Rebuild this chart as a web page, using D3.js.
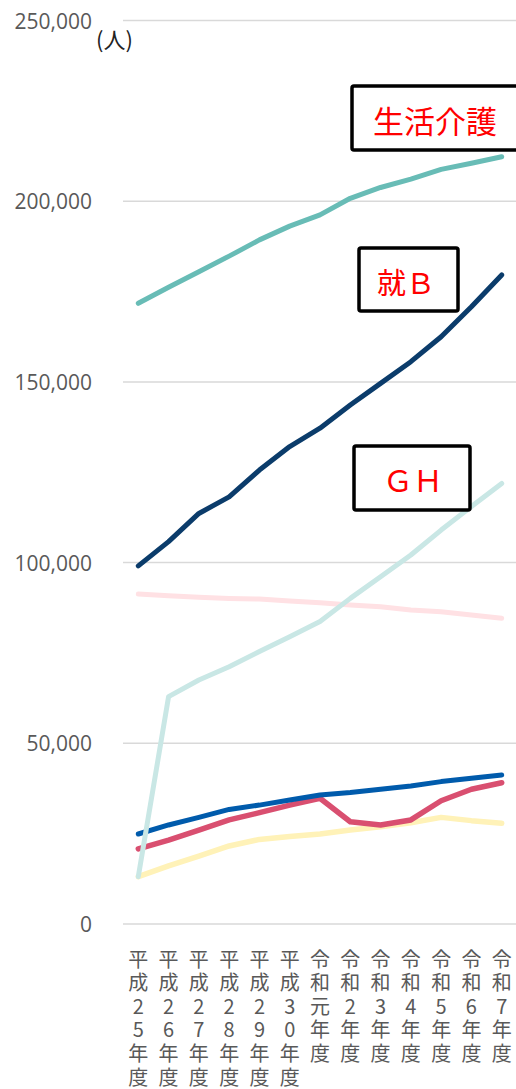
<!DOCTYPE html>
<html>
<head>
<meta charset="utf-8">
<script src="https://cdn.jsdelivr.net/npm/d3@7"></script>
<style>
  html, body { margin: 0; padding: 0; background: #fff; }
  svg { display: block; }
</style>
</head>
<body>
<div id="chart"></div>
<script>
// Chart data.
var years = ['平成25年度', '平成26年度', '平成27年度', '平成28年度', '平成29年度', '平成30年度',
             '令和元年度', '令和2年度', '令和3年度', '令和4年度', '令和5年度', '令和6年度', '令和7年度'];

var seikatsuKaigo = [171750, 176200, 180500, 184800, 189300, 193100, 196200, 200800, 203800, 206100, 208800, 210500, 212300];
var shuB          = [99100, 105800, 113600, 118200, 125600, 132100, 137200, 143600, 149600, 155600, 162500, 170800, 179600];
var gh            = [13100, 62900, 67500, 71200, 75400, 79500, 83700, 90100, 96100, 102100, 109000, 115500, 121900];
var series4       = [91300, 90800, 90400, 90100, 89900, 89400, 88900, 88300, 87800, 86900, 86400, 85500, 84600];
var series5       = [24900, 27400, 29500, 31700, 32900, 34300, 35700, 36400, 37300, 38200, 39400, 40300, 41200];
var series6       = [20800, 23200, 26000, 28800, 30800, 32900, 34800, 28300, 27400, 28800, 34100, 37300, 39100];
var series7       = [13100, 16100, 18800, 21600, 23400, 24200, 24900, 26000, 26900, 28000, 29500, 28600, 27900];

var yTicks = [0, 50000, 100000, 150000, 200000, 250000];

var W = 516, H = 1089;

var svg = d3.select('#chart').append('svg')
  .attr('width', W).attr('height', H);

var x = d3.scalePoint().domain(years).range([138.3, 501.7]);
var y = d3.scaleLinear().domain([0, 250000]).range([924, 20.5]);

// Gridlines.
svg.append('g')
  .selectAll('line')
  .data(yTicks).enter().append('line')
  .attr('x1', 123).attr('x2', W)
  .attr('y1', function(d) { return y(d); })
  .attr('y2', function(d) { return y(d); })
  .attr('stroke', '#d9d9d9')
  .attr('stroke-width', 1.5);

// Y tick labels.
svg.append('g')
  .selectAll('text')
  .data(yTicks).enter().append('text')
  .attr('x', 92)
  .attr('y', function(d) { return y(d); })
  .attr('text-anchor', 'end')
  .attr('dominant-baseline', 'central')
  .style('font-family', '"Open Sans", "Noto Sans", sans-serif')
  .style('font-size', '21px')
  .style('fill', '#595959')
  .text(function(d) { return d3.format(',')(d); });

// Unit label.
svg.append('text')
  .attr('x', 96).attr('y', 38)
  .attr('dominant-baseline', 'central')
  .style('font-family', '"Noto Sans CJK JP", sans-serif')
  .style('font-size', '22px')
  .style('fill', '#222')
  .text('(人)');

// X labels, stacked vertically one character per row.
var xl = svg.append('g')
  .selectAll('g')
  .data(years).enter().append('g');

xl.each(function(d) {
  var g = d3.select(this);
  Array.from(d).forEach(function(ch, i) {
    g.append('text')
      .attr('x', x(d))
      .attr('y', 958 + i * 23.6)
      .attr('text-anchor', 'middle')
      .attr('dominant-baseline', 'central')
      .style('font-family', '"Noto Sans CJK JP", sans-serif')
      .style('font-size', '20px')
      .style('fill', '#595959')
      .text(ch);
  });
});

// Lines, back to front.
var lines = [
  { values: series4,       color: '#ffe1e4', width: 5 },
  { values: series7,       color: '#fff2b8', width: 5.5 },
  { values: series6,       color: '#d94f70', width: 5.5 },
  { values: series5,       color: '#005bac', width: 5 },
  { values: gh,            color: '#c9e7e5', width: 5 },
  { values: shuB,          color: '#0b3c6b', width: 5 },
  { values: seikatsuKaigo, color: '#68bcb6', width: 5 }
];

var line = d3.line()
  .x(function(d, i) { return x(years[i]); })
  .y(function(d) { return y(d); });

svg.append('g')
  .selectAll('path')
  .data(lines).enter().append('path')
  .attr('d', function(d) { return line(d.values); })
  .attr('fill', 'none')
  .attr('stroke', function(d) { return d.color; })
  .attr('stroke-width', function(d) { return d.width; })
  .attr('stroke-linecap', 'round')
  .attr('stroke-linejoin', 'round');

// Callout boxes.
var callouts = [
  { label: '生活介護', x: 352, y: 86,  w: 168, h: 64, size: 31, cx: 435 },
  { label: '就Ｂ',     x: 359, y: 248, w: 99,  h: 63, size: 29, cx: 406 },
  { label: 'ＧＨ',     x: 354, y: 446, w: 116, h: 64, size: 30, cx: 413 }
];

var cg = svg.append('g')
  .selectAll('g')
  .data(callouts).enter().append('g');

cg.append('rect')
  .attr('x', function(d) { return d.x; })
  .attr('y', function(d) { return d.y; })
  .attr('width', function(d) { return d.w; })
  .attr('height', function(d) { return d.h; })
  .attr('rx', 2)
  .attr('fill', '#fff')
  .attr('stroke', '#000')
  .attr('stroke-width', 3.5);

cg.append('text')
  .attr('x', function(d) { return d.cx; })
  .attr('y', function(d) { return d.y + d.h / 2 + 1; })
  .attr('text-anchor', 'middle')
  .attr('dominant-baseline', 'central')
  .style('font-family', '"Noto Sans CJK JP", sans-serif')
  .style('font-size', function(d) { return d.size + 'px'; })
  .style('fill', '#ff0000')
  .text(function(d) { return d.label; });
</script>
</body>
</html>
